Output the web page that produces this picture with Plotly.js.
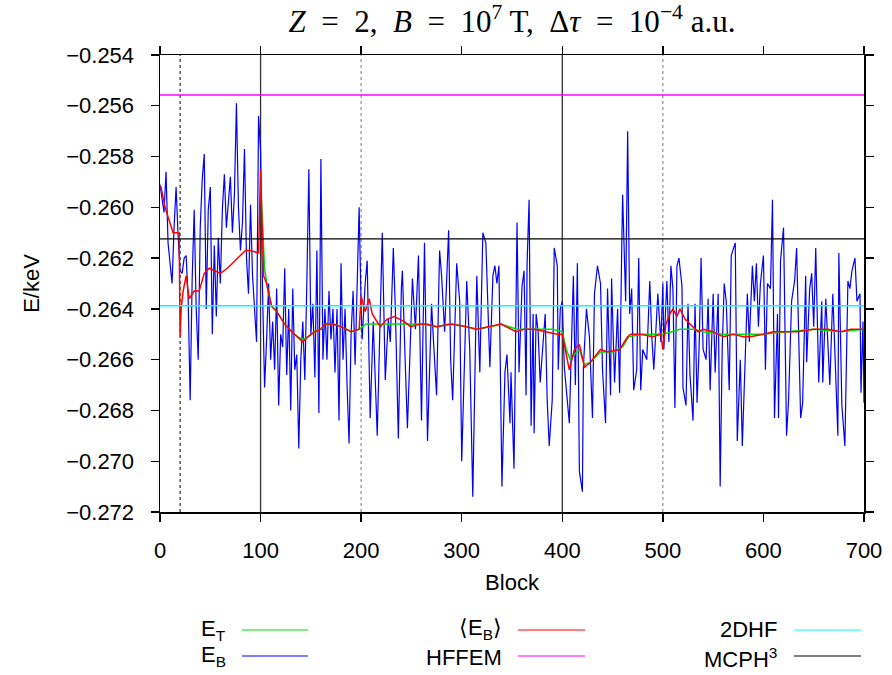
<!DOCTYPE html>
<html>
<head>
<meta charset="utf-8">
<script src="https://cdn.plot.ly/plotly-3.0.1.min.js"></script>
<style>html,body{margin:0;padding:0;background:#fff;}#chart{width:892px;height:675px;}</style>
</head>
<body>
<div id="chart"></div>
<script>
// ---- data ----
const blockB = [0,2,4,6,8,10,12,14,16,18,20,22,24,26,28,30,32,34,36,38,40,42,44,46,48,50,52,54,56,58,60,62,64,66,68,70,72,74,76,78,80,82,84,86,88,90,92,94,96,98,100,
102,104,106,108,110,112,114,116,118,120,122,124,126,128,130,132,134,136,138,140,142,144,146,148,150,152,154,156,158,160,162,164,166,168,170,172,174,176,178,180,182,184,186,188,190,192,194,196,198,200,
201,204,206,209,212,216,218,221,224,227,229,232,234,237,240,241,244,246,248,251,254,257,260,263,266,270,272,275,278,280,283,287,289,291,295,298,300,
305,308,311,314,315,318,321,324,328,331,333,335,337,340,343,345,348,349,352,355,357,360,362,364,365,367,369,371,372,374,376,378,381,383,385,387,390,392,395,396,398,400,
402,405,407,411,413,415,417,420,421,424,427,430,432,435,438,440,443,445,448,449,452,455,457,459,460,463,465,467,469,471,474,476,478,480,484,487,489,491,494,495,498,500,
501,504,506,508,510,512,514,516,519,520,523,525,527,530,532,534,536,538,540,543,545,547,550,552,555,557,559,561,563,566,568,572,574,577,579,582,584,586,589,591,593,595,597,600,
602,604,607,609,611,614,615,617,620,623,625,628,631,633,635,637,639,642,643,646,648,650,652,655,658,659,662,664,666,669,671,674,675,678,681,684,686,688,691,693,696,697,699,700];
const eB = [-0.2591,-0.2596,-0.2602,-0.2586,-0.2614,-0.2622,-0.2630,-0.2608,-0.2592,-0.2611,-0.2625,-0.2626,-0.2620,-0.2619,-0.2636,-0.2676,-0.2628,-0.2601,-0.2640,-0.2660,-0.2608,-0.2589,-0.2579,-0.2640,-0.2601,-0.2592,-0.2650,-0.2615,-0.2643,-0.2612,-0.2630,-0.2601,-0.2587,-0.2608,-0.2596,-0.2588,-0.2610,-0.2595,-0.2559,-0.2600,-0.2617,-0.2606,-0.2577,-0.2620,-0.2634,-0.2599,-0.2627,-0.2640,-0.2653,-0.2564,-0.2578,
-0.2634,-0.2671,-0.2652,-0.2630,-0.2660,-0.2645,-0.2664,-0.2632,-0.2678,-0.2650,-0.2655,-0.2624,-0.2666,-0.2640,-0.2680,-0.2632,-0.2664,-0.2658,-0.2695,-0.2660,-0.2645,-0.2668,-0.2630,-0.2585,-0.2650,-0.2638,-0.2667,-0.2617,-0.2681,-0.2581,-0.2660,-0.2640,-0.2660,-0.2633,-0.2652,-0.2640,-0.2665,-0.2640,-0.2684,-0.2622,-0.2660,-0.2640,-0.2670,-0.2693,-0.2650,-0.2633,-0.2662,-0.2625,-0.2600,-0.2640,
-0.2652,-0.2630,-0.2621,-0.2683,-0.2645,-0.2690,-0.2654,-0.2610,-0.2668,-0.2644,-0.2653,-0.2616,-0.2640,-0.2691,-0.2632,-0.2625,-0.2663,-0.2687,-0.2664,-0.2628,-0.2648,-0.2619,-0.2684,-0.2614,-0.2692,-0.2638,-0.2653,-0.2674,-0.2617,-0.2627,-0.2649,-0.2609,-0.2660,-0.2676,-0.2622,-0.2637,-0.2700,
-0.2629,-0.2656,-0.2714,-0.2647,-0.2627,-0.2665,-0.2610,-0.2614,-0.2663,-0.2627,-0.2623,-0.2630,-0.2623,-0.2710,-0.2665,-0.2658,-0.2685,-0.2665,-0.2703,-0.2606,-0.2665,-0.2631,-0.2625,-0.2674,-0.2622,-0.2597,-0.2686,-0.2642,-0.2689,-0.2642,-0.2649,-0.2669,-0.2651,-0.2642,-0.2676,-0.2694,-0.2676,-0.2616,-0.2623,-0.2664,-0.2640,-0.2637,
-0.2663,-0.2676,-0.2685,-0.2627,-0.2670,-0.2622,-0.2704,-0.2712,-0.2663,-0.2640,-0.2651,-0.2683,-0.2634,-0.2623,-0.2630,-0.2664,-0.2685,-0.2632,-0.2674,-0.2628,-0.2669,-0.2640,-0.2673,-0.2619,-0.2595,-0.2637,-0.2570,-0.2642,-0.2632,-0.2672,-0.2664,-0.2620,-0.2672,-0.2656,-0.2660,-0.2629,-0.2651,-0.2664,-0.2638,-0.2634,-0.2653,-0.2630,
-0.2656,-0.2629,-0.2653,-0.2623,-0.2632,-0.2679,-0.2623,-0.2620,-0.2631,-0.2671,-0.2678,-0.2638,-0.2666,-0.2684,-0.2638,-0.2677,-0.2656,-0.2620,-0.2656,-0.2660,-0.2636,-0.2672,-0.2634,-0.2665,-0.2634,-0.2710,-0.2656,-0.2630,-0.2637,-0.2672,-0.2619,-0.2614,-0.2692,-0.2660,-0.2694,-0.2660,-0.2634,-0.2653,-0.2623,-0.2637,-0.2622,-0.2647,-0.2630,-0.2619,
-0.2664,-0.2630,-0.2632,-0.2597,-0.2683,-0.2642,-0.2683,-0.2621,-0.2608,-0.2690,-0.2676,-0.2637,-0.2629,-0.2616,-0.2656,-0.2683,-0.2677,-0.2627,-0.2661,-0.2632,-0.2626,-0.2647,-0.2616,-0.2669,-0.2637,-0.2669,-0.2636,-0.2653,-0.2670,-0.2634,-0.2656,-0.2690,-0.2618,-0.2678,-0.2694,-0.2629,-0.2632,-0.2625,-0.2620,-0.2637,-0.2634,-0.2673,-0.2645,-0.2677];

const blockAvg = [0,1,5,8,13,16,19,20,21,23,26,29,34,39,44,49,54,60,67,77,85,90,98,100,103,106,111,116,124,131,137,142,147,154,160,164,172,180,190,198,200,204,208,211,219,226,233,243,249,259,265,275,289,305,315,329,339,354,362,372,385,395,400,403,407,412,417,422,428,438,445,457,465,468,478,490,498,500,503,507,510,514,517,522,527,535,540,550,560,570,580,587,600,610,623,634,650,664,677,687,700];
const eAvg = [-0.2592,-0.2592,-0.2600,-0.2604,-0.2610,-0.2610,-0.2610,-0.2651,-0.2640,-0.2633,-0.2627,-0.2636,-0.2633,-0.2633,-0.2626,-0.2624,-0.2625,-0.2626,-0.2624,-0.2620,-0.2617,-0.2617,-0.2618,-0.2585,-0.2627,-0.2630,-0.2639,-0.2641,-0.2646,-0.2649,-0.2651,-0.2653,-0.2651,-0.2649,-0.2648,-0.2646,-0.2646,-0.2647,-0.2649,-0.2648,-0.2635,-0.2641,-0.2636,-0.2642,-0.2647,-0.2644,-0.2643,-0.2645,-0.2647,-0.2646,-0.2646,-0.2647,-0.2646,-0.2647,-0.2648,-0.2647,-0.2646,-0.2649,-0.2648,-0.2648,-0.2649,-0.2650,-0.2650,-0.2656,-0.2664,-0.2656,-0.2654,-0.2663,-0.2661,-0.2656,-0.2657,-0.2656,-0.2651,-0.2650,-0.2650,-0.2651,-0.2650,-0.2656,-0.2646,-0.2642,-0.2640,-0.2643,-0.2640,-0.2644,-0.2646,-0.2649,-0.2648,-0.2649,-0.2651,-0.2650,-0.2651,-0.2651,-0.2650,-0.2649,-0.2649,-0.2649,-0.2648,-0.2648,-0.2649,-0.2648,-0.2648];

const blockT = [100,102,104,107,111,116,124,131,137,142,147,154,160,164,172,180,190,198,205,222,245,260,275,289,305,315,329,339,355,372,390,400,404,408,412,417,422,428,438,450,460,466,480,500,510,517,530,540,560,580,600,623,650,677,700];
const eT = [-0.2590,-0.2610,-0.2624,-0.2632,-0.2639,-0.2641,-0.2646,-0.2649,-0.2651,-0.2652,-0.2651,-0.2649,-0.2648,-0.2646,-0.2646,-0.2647,-0.2649,-0.2648,-0.2646,-0.2646,-0.2646,-0.2646,-0.2647,-0.2646,-0.2647,-0.2648,-0.2647,-0.2646,-0.2648,-0.2648,-0.2648,-0.2649,-0.2656,-0.2660,-0.2658,-0.2656,-0.2662,-0.2661,-0.2657,-0.2657,-0.2655,-0.2651,-0.2650,-0.2650,-0.2649,-0.2648,-0.2648,-0.2649,-0.2650,-0.2650,-0.2650,-0.2649,-0.2648,-0.2649,-0.2648];

const refLevels = {HFFEM: -0.25558, DHF2: -0.26388, MCPH3: -0.26124};
const xTicks = [0,100,200,300,400,500,600,700];
const yTicks = [-0.272,-0.270,-0.268,-0.266,-0.264,-0.262,-0.260,-0.258,-0.256,-0.254];
const vDotted = [20,200,500];
const vSolid = [100,400];

// ---- geometry helpers (plot area in pixels) ----
const L=160, R=864, T=55, B=512;
const px = v => (v-L)/(R-L);
const py = v => (B-v)/(B-T);

const traces = [
  {x: blockB, y: eB, mode:'lines', name:'E_B', line:{color:'#0000ff', width:1.2}},
  {x: blockT, y: eT, mode:'lines', name:'E_T', line:{color:'#00e000', width:1.5}},
  {x: blockAvg, y: eAvg, mode:'lines', name:'<E_B>', line:{color:'#ff0000', width:1.5}},
  {x: [0,700], y: [refLevels.HFFEM, refLevels.HFFEM], mode:'lines', name:'HFFEM', line:{color:'#ff00ff', width:1.5}},
  {x: [0,700], y: [refLevels.DHF2, refLevels.DHF2], mode:'lines', name:'2DHF', line:{color:'#00ffff', width:1.5}},
  {x: [0,700], y: [refLevels.MCPH3, refLevels.MCPH3], mode:'lines', name:'MCPH3', line:{color:'#000000', width:1.2}}
];

const shapes = [];
vDotted.forEach((v,i)=>shapes.push({type:'line', xref:'x', yref:'paper', x0:v, x1:v, y0:0, y1:1, layer:'below',
  line:{color: i===0 ? '#000' : '#777', width:1, dash:'dot'}}));
vSolid.forEach(v=>shapes.push({type:'line', xref:'x', yref:'paper', x0:v, x1:v, y0:0, y1:1, layer:'below',
  line:{color:'#333', width:1.3}}));

// legend (gnuplot-like: text then sample line)
const legendItems = [
  {t:'E<sub>T</sub>', c:'#00e000', tx:228, lx0:242, lx1:308, y:630, ty:630},
  {t:'E<sub>B</sub>', c:'#0000ff', tx:228, lx0:242, lx1:308, y:656, ty:656},
  {t:'⟨E<sub>B</sub>⟩', c:'#ff0000', tx:504, lx0:518, lx1:585, y:630, ty:629},
  {t:'HFFEM', c:'#ff00ff', tx:504, lx0:518, lx1:585, y:656, ty:657},
  {t:'2DHF', c:'#00ffff', tx:779, lx0:794, lx1:861, y:630, ty:629},
  {t:'MCPH<sup>3</sup>', c:'#000000', tx:779, lx0:794, lx1:861, y:656, ty:658}
];
const annotations = [];
legendItems.forEach(it=>{
  annotations.push({xref:'paper', yref:'paper', x:px(it.tx), y:py(it.ty), xanchor:'right', yanchor:'middle',
    text:it.t, showarrow:false, font:{family:'Liberation Sans, Arial, sans-serif', size:22, color:'#000'}});
  shapes.push({type:'line', xref:'paper', yref:'paper', x0:px(it.lx0), x1:px(it.lx1), y0:py(it.y), y1:py(it.y),
    line:{color:it.c, width:1.2}});
});

const axisFont = {family:'Liberation Sans, Arial, sans-serif', size:22, color:'#000'};
const sp = '\u2002';
const layout = {
  width:892, height:675,
  margin:{l:L, r:892-R, t:T, b:675-B, pad:0},
  paper_bgcolor:'#fff', plot_bgcolor:'#fff',
  showlegend:false,
  title:{text:'<i>Z</i>'+sp+'='+sp+'2,'+sp+'<i>B</i>'+sp+'='+sp+'10<sup>7</sup> T,'+sp+'Δ<i>τ</i>'+sp+'='+sp+'10<sup>−4</sup> a.u.',
    font:{family:'Liberation Serif, Times New Roman, serif', size:31, color:'#000'},
    x:0.5, xref:'paper', y:1-21/675, yref:'container', yanchor:'middle'},
  xaxis:{range:[0,700], tickvals:xTicks, ticktext:xTicks.map(String), showgrid:false, zeroline:false,
    showline:true, linecolor:'#000', linewidth:1.5, mirror:'ticks', ticks:'outside', ticklen:8, tickwidth:1.3, tickcolor:'#000',
    tickfont:axisFont, ticklabelstandoff:10,
    title:{text:'Block', font:axisFont, standoff:12}},
  yaxis:{range:[-0.272,-0.254], tickvals:yTicks, ticktext:yTicks.map(v=>'−'+Math.abs(v).toFixed(3)), showgrid:false, zeroline:false,
    showline:true, linecolor:'#000', linewidth:1.5, mirror:'ticks', ticks:'outside', ticklen:8, tickwidth:1.3, tickcolor:'#000',
    tickfont:axisFont, ticklabelstandoff:12,
    title:{text:'E/keV', font:axisFont, standoff:20}},
  shapes:shapes,
  annotations:annotations
};

Plotly.newPlot('chart', traces, layout, {displayModeBar:false, staticPlot:true});
</script>
</body>
</html>
